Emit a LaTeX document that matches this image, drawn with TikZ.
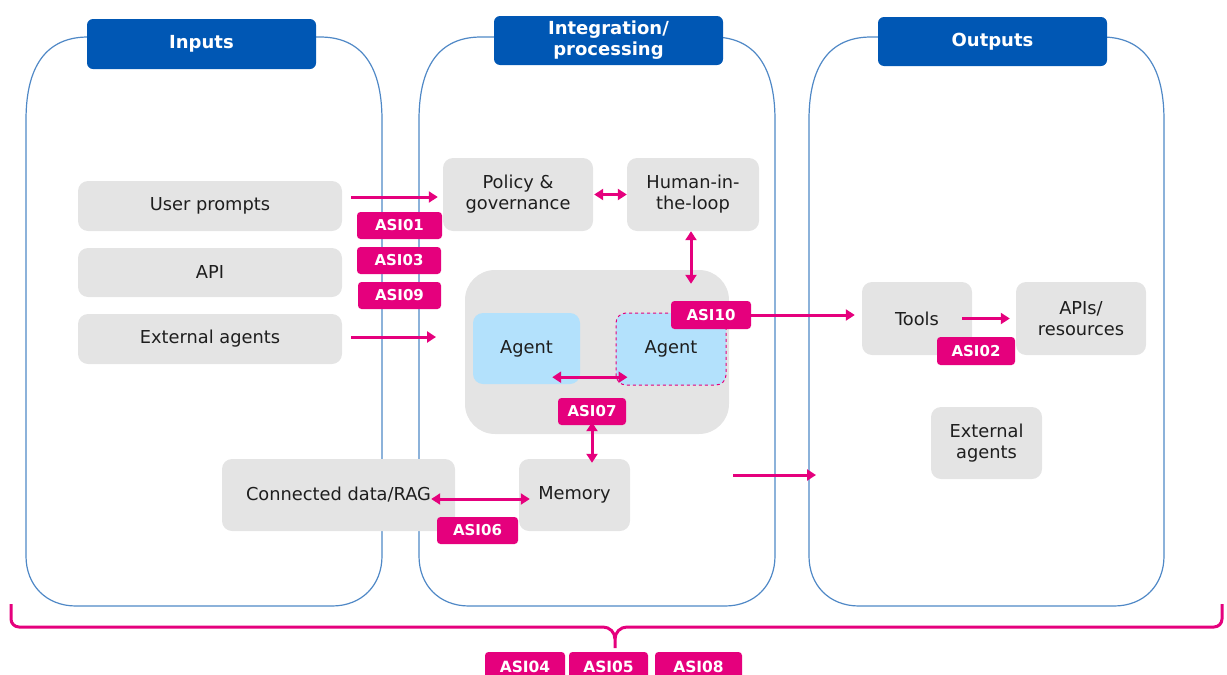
\documentclass[tikz,border=0pt]{standalone}
\usepackage{fontspec}
\setmainfont{DejaVu Sans}
\usetikzlibrary{arrows.meta,calc}
\definecolor{hblue}{HTML}{0057B4}
\definecolor{pline}{HTML}{4F88C6}
\definecolor{mag}{HTML}{E5007D}
\definecolor{boxgray}{HTML}{E4E4E4}
\definecolor{agblue}{HTML}{B3E1FC}
\definecolor{txt}{HTML}{1E1E1E}
\begin{document}
\begin{tikzpicture}[x=1pt,y=-1pt,
  box/.style={fill=boxgray, rounded corners=10pt, align=center, text=txt,
    font=\fontsize{17.8}{21}\selectfont, inner sep=0pt},
  agentbox/.style={box, fill=agblue},
  hdr/.style={fill=hblue, rounded corners=6pt, text=white, align=center,
    font=\fontsize{18}{21}\selectfont\bfseries, inner sep=0pt},
  lab/.style={fill=mag, rounded corners=3.5pt, text=white, inner sep=0pt,
    font=\fontsize{15}{16}\selectfont\bfseries},
  blab/.style={lab, font=\fontsize{15.5}{16}\selectfont\bfseries},
  panel/.style={draw=pline, line width=1.2pt},
  arr/.style={draw=mag, line width=3pt, -{Triangle[length=9pt,width=11pt]}},
  darr/.style={draw=mag, line width=3pt, {Triangle[length=9pt,width=11pt]}-{Triangle[length=9pt,width=11pt]}},
  brace/.style={draw=mag, line width=3pt, line join=round}
]
\useasboundingbox (0,0) rectangle (1227,675);
\clip (0,0) rectangle (1227,675);

% panels
\foreach \xa/\xb in {26/382, 419/775, 809/1164}{
  \draw[panel] (\xa,556) -- (\xa,120)
    .. controls (\xa,60) and (\xa+25,37) .. (\xa+62,37)
    -- (\xb-62,37)
    .. controls (\xb-25,37) and (\xb,60) .. (\xb,120)
    -- (\xb,556)
    .. controls (\xb,585) and (\xb-20,606) .. (\xb-50,606)
    -- (\xa+50,606)
    .. controls (\xa+20,606) and (\xa,585) .. (\xa,556) -- cycle;
}

% headers
\node[hdr, minimum width=229pt, minimum height=50pt] (hin) at (201.5,44) {Inputs};
\node[hdr, minimum width=229pt, minimum height=49pt] (hint) at (608.5,40.5) {Integration/\\processing};
\node[hdr, minimum width=229pt, minimum height=49pt] (hout) at (992.5,41.5) {Outputs};

% input boxes
\node[box, minimum width=264pt, minimum height=50pt] (up) at (210,206) {User prompts};
\node[box, minimum width=264pt, minimum height=49pt] (api) at (210,272.5) {API};
\node[box, minimum width=264pt, minimum height=50pt] (ext) at (210,339) {External agents};

% integration boxes
\node[box, minimum width=150pt, minimum height=73pt] (pol) at (518,194.5) {Policy \&\\governance};
\node[box, minimum width=132pt, minimum height=73pt] (hum) at (693,194.5) {Human-in-\\the-loop};
\node[box, rounded corners=30pt, minimum width=264pt, minimum height=164pt] (cont) at (597,352) {};
\node[agentbox, minimum width=107pt, minimum height=71pt] (ag1) at (526.5,348.5) {Agent};
\node[agentbox, draw=mag, dashed, line width=1pt, minimum width=110pt, minimum height=72pt] (ag2) at (671,349) {Agent};
\node[box, minimum width=233pt, minimum height=72pt] (rag) at (338.5,495) {Connected data/RAG};
\node[box, minimum width=111pt, minimum height=72pt] (mem) at (574.5,495) {Memory};

% output boxes
\node[box, minimum width=110pt, minimum height=73pt] (tools) at (917,318.5) {Tools};
\node[box, minimum width=130pt, minimum height=73pt] (apis) at (1081,318.5) {APIs/\\resources};
\node[box, minimum width=111pt, minimum height=72pt] (ext2) at (986.5,443) {External\\agents};

% free coordinates
\coordinate (extend) at (436,337);
\coordinate (fa) at (733,475);
\coordinate (fb) at (816,475);
\coordinate (ups) at ([shift={(9pt,9pt)}]up.east);
\coordinate (aas) at ([shift={(-28pt,7pt)}]ag1.south east);

% arrows
\draw[arr] (ups) -- ([xshift=-5pt]pol.west |- ups);
\draw[arr] ([shift={(9pt,2pt)}]ext.east) -- (extend);
\draw[darr, shorten <=1pt, shorten >=0pt] (pol.east) -- (hum.west);
\draw[darr] ([xshift=-2pt]hum.south) -- ([shift={(-2pt,-14pt)}]hum.south |- cont.north);
\draw[darr] (aas) -- ([xshift=12pt]aas -| ag2.west);
\draw[darr] ([shift={(-24pt,-4pt)}]rag.east) -- ([shift={(11pt,-4pt)}]mem.west);
\draw[arr] (fa) -- (fb);

% labels
\node[lab, minimum width=85pt, minimum height=27pt] (asi01) at (399.5,225.5) {ASI01};
\node[lab, minimum width=84pt, minimum height=27pt] (asi03) at (399,260.5) {ASI03};
\node[lab, minimum width=83pt, minimum height=27pt] (asi09) at (399.5,295.5) {ASI09};
\node[lab, minimum width=80pt, minimum height=28pt] (asi10) at (711,315) {ASI10};
\node[lab, minimum width=68pt, minimum height=27pt] (asi07) at (592,411.5) {ASI07};
\node[lab, minimum width=81pt, minimum height=27pt] (asi06) at (477.5,530.5) {ASI06};
\node[lab, minimum width=78pt, minimum height=28pt] (asi02) at (976,351) {ASI02};
\node[blab, minimum width=80pt, minimum height=30pt] (asi04) at (525,667) {ASI04};
\node[blab, minimum width=79pt, minimum height=30pt] (asi05) at (608.5,667) {ASI05};
\node[blab, minimum width=87pt, minimum height=30pt] (asi08) at (698.5,667) {ASI08};

% arrows from labels
\draw[arr, shorten >=7pt] (asi10.east) -- (asi10.east -| tools.west);
\draw[arr] ([xshift=-10pt]tools.east) -- ([xshift=-6pt]apis.west);
\draw[darr] ([yshift=3pt]asi07.south) -- ([yshift=-4pt]asi07.south |- mem.north);

% brace
\draw[brace] (11,604) -- (11,619) to[out=-90,in=180] (19,627) -- (603,627)
  to[out=0,in=90] (615,639) -- (615,648);
\draw[brace] (615,639) to[out=90,in=180] (627,627) -- (1214,627)
  to[out=0,in=-90] (1222,619) -- (1222,604);
\end{tikzpicture}
\end{document}
